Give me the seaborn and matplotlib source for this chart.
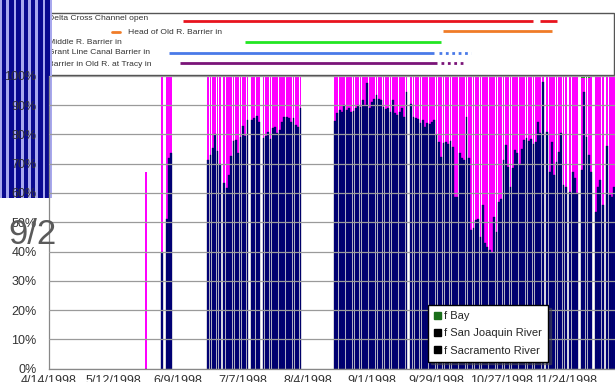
import numpy as np
import pandas as pd
import seaborn as sns
import matplotlib.pyplot as plt
from matplotlib.patches import Patch, Rectangle

sns.set_theme(style="white")
plt.rcParams["font.family"] = ["Liberation Sans", "DejaVu Sans"]

# ----------------------------- data ------------------------------
t0 = pd.Timestamp("1998-04-14")

# two days with only partial data
early_dates = ["1998-05-26", "1998-06-02"]
early_sjr = [0.0, 0.40]
early_sac = [0.67, 0.60]

# daily f San Joaquin River, runs of consecutive days (nan = no data)
sjr_jun04 = [0.51, 0.72, 0.735]
sjr_jun22 = [0.712, 0.729, 0.754, 0.80, 0.743, 0.70]
sjr_jun29 = [0.633, 0.618, 0.66, 0.727, 0.777, 0.78, 0.735, 0.792, 0.83, 0.795, 0.848]
sjr_jul11 = [0.849, 0.857, 0.864, 0.843]
sjr_jul16 = [0.788, 0.795, 0.809, 0.784, 0.82, 0.826, 0.803, 0.815, 0.841, 0.86,
             0.86, 0.854, 0.843, 0.857, 0.832, 0.826, 0.89]
sjr_aug16 = [0.845, 0.871, 0.883, 0.877, 0.90, 0.883, 0.889, 0.877, 0.879, 0.889,
             0.90, 0.894, 0.917, 0.90, 0.974, 0.889, 0.911, 0.922, 0.934, 0.922,
             0.917, 0.894, 0.886, 0.889, 0.877, 0.917, 0.871, 0.866, 0.877, 0.889,
             0.86, 0.943, np.nan,
             0.905, 0.86, 0.857, 0.852, 0.84, 0.849, 0.826, 0.838, 0.834, 0.843,
             0.849, 0.797, 0.775, 0.724, 0.77, 0.773, 0.766, 0.777, 0.758, 0.587,
             0.587, 0.735, 0.718, 0.712, 0.86, 0.718,
             0.474, 0.479, 0.507, 0.511, 0.45, 0.56, 0.428, 0.416, 0.405, 0.394,
             0.519, 0.468, 0.57, 0.58, 0.712, 0.763, 0.69, 0.621, 0.684, 0.746,
             0.735, 0.70, 0.751, 0.78, 0.788, 0.777, 0.783, 0.766, 0.775, 0.843,
             0.803, 0.98, np.nan,
             0.809, 0.673, 0.775, 0.661, 0.707, 0.74, 0.803, 0.626, 0.62, np.nan,
             0.604, 0.673, 0.65, 0.598, np.nan, 0.678, 0.945, 0.79, 0.73, 0.673,
             np.nan, 0.536, 0.621, 0.644, 0.558, np.nan, 0.76, 0.592, 0.587, 0.62]
runs = [("1998-06-04", sjr_jun04), ("1998-06-22", sjr_jun22), ("1998-06-29", sjr_jun29),
        ("1998-07-11", sjr_jul11), ("1998-07-16", sjr_jul16), ("1998-08-16", sjr_aug16)]

# small f Bay share on a few days
bay_dates = ["1998-08-24", "1998-08-25", "1998-08-26", "1998-08-27", "1998-08-28",
             "1998-10-27", "1998-10-28", "1998-10-29",
             "1998-12-01", "1998-12-02", "1998-12-03", "1998-12-04"]
bay_vals = [0.006, 0.006, 0.006, 0.006, 0.006, 0.006, 0.006, 0.006, 0.008, 0.008, 0.008, 0.008]

# barrier operations (start, end)
barrier_names = ["Delta Cross Channel open", "Head of Old R. Barrier in", "Middle R. Barrier in",
                 "Grant Line Canal Barrier in", "Barrier in Old R. at Tracy in"]
barrier_colors = ["#e8141e", "#f07c28", "#22e622", "#4a7ae8", "#7a1478"]
barrier_solid = [[("1998-06-11", "1998-11-10"), ("1998-11-13", "1998-11-20")],
                 [("1998-10-02", "1998-11-18")],
                 [("1998-07-08", "1998-10-01")],
                 [("1998-06-05", "1998-09-28")],
                 [("1998-06-10", "1998-09-29")]]
barrier_dotted = [[], [], [], [("1998-09-30", "1998-10-14")], [("1998-10-01", "1998-10-11")]]

xtick_labels = ["4/14/1998", "5/12/1998", "6/9/1998", "7/7/1998", "8/4/1998",
                "9/1/1998", "9/29/1998", "10/27/1998", "11/24/1998"]

# ------------------------- build table ---------------------------
rows = []
for d, s, m in zip(early_dates, early_sjr, early_sac):
    rows.append((pd.Timestamp(d), s, m))
for start, vals in runs:
    for i, v in enumerate(vals):
        if not np.isnan(v):
            rows.append((pd.Timestamp(start) + pd.Timedelta(days=i), v, np.nan))
df = pd.DataFrame(rows, columns=["date", "sjr", "sac"])
df["day"] = (df["date"] - t0).dt.days
bay = pd.Series(bay_vals, index=pd.to_datetime(bay_dates))
df["bay"] = df["date"].map(bay).fillna(0.0)
# fractions add to one where sac was not given
df["sac"] = df["sac"].fillna(1 - df["sjr"] - df["bay"])
df["top_sac"] = df["sjr"] + df["sac"]
df["top_bay"] = df["top_sac"] + df["bay"]

def day_of(s):
    return (pd.Timestamp(s) - t0).days

# ---------------------------- figure -----------------------------
W, H = 615, 382
fig = plt.figure(figsize=(W / 100, H / 100), dpi=100)
px_per_day = 2.307
ax_w = 572
xmax = ax_w / px_per_day

# pasted strip of another chart at top left
ax_art = fig.add_axes([0, 1 - 198 / H, 52 / W, 198 / H], zorder=1)
art = pd.DataFrame({"k": range(7), "h": [1] * 7})
sns.barplot(data=art, x="k", y="h", color="#0a0a90", saturation=1, width=0.62,
            linewidth=0, ax=ax_art)
ax_art.set_facecolor("#a8a8ee")
ax_art.set_xlim(-0.55, 6.6)
ax_art.set_ylim(0, 1)
ax_art.set_xticks([]); ax_art.set_yticks([])
ax_art.set_xlabel(""); ax_art.set_ylabel("")
for s in ax_art.spines.values():
    s.set_visible(False)

# main bar chart
ax = fig.add_axes([49 / W, 13.3 / H, ax_w / W, 293 / H], zorder=2)
ax.set_facecolor("none")
common = dict(x="day", native_scale=True, width=0.78, errorbar=None, saturation=1, ax=ax)
sns.barplot(data=df, y="top_bay", color="#18a018", linewidth=0, **common)
sns.barplot(data=df, y="top_sac", color="#ff00ff", linewidth=0, **common)
sns.barplot(data=df, y="sjr", color="#000080", edgecolor="#000040", linewidth=0.25, **common)

ax.set_xlim(0, xmax)
ax.set_ylim(0, 1)
ax.set_xticks(np.arange(0, 225, 28))
ax.set_xticklabels(xtick_labels)
ax.set_xticks(np.arange(14, xmax, 28), minor=True)
ax.set_yticks(np.arange(0, 1.01, 0.1))
ax.set_yticklabels([f"{v}%" for v in range(0, 101, 10)])
ax.set_xlabel(""); ax.set_ylabel("")
ax.yaxis.grid(True, color="#9a9a9a", lw=0.9)
ax.set_axisbelow(False)
ax.tick_params(axis="both", which="both", direction="out", length=3, width=0.8,
               color="#888888", labelsize=9, labelcolor="#333333")
ax.tick_params(axis="y", pad=6)
ax.tick_params(axis="x", pad=1.5)
for s in ["top", "right"]:
    ax.spines[s].set_visible(False)
for s in ["left", "bottom"]:
    ax.spines[s].set_color("#888888")
    ax.spines[s].set_linewidth(0.9)

leg_handles = [Patch(color="#1a6e1a"), Patch(color="black"), Patch(color="black")]
fig.legend(leg_handles, ["f Bay", "f San Joaquin River", "f Sacramento River"],
           loc="upper left", bbox_to_anchor=(428 / W, 1 - 305 / H), fontsize=8,
           frameon=True, fancybox=False, shadow=True, edgecolor="black",
           handlelength=0.6, handleheight=0.6, handletextpad=0.3, labelspacing=0.65,
           borderpad=0.55, borderaxespad=0)

# barrier panel above the chart
ax_b = fig.add_axes([49 / W, 1 - 75 / H, ax_w / W, 62 / H], zorder=0)
ax_b.set_xlim(0, xmax)
ax_b.set_ylim(5.14, -0.76)
ax_b.axis("off")
for i, (name, col) in enumerate(zip(barrier_names, barrier_colors)):
    for a, b in barrier_solid[i]:
        ax_b.plot([day_of(a), day_of(b)], [i, i], color=col, lw=2, solid_capstyle="butt")
    for a, b in barrier_dotted[i]:
        ax_b.plot([day_of(a), day_of(b)], [i, i], color=col, lw=2, ls=(0, (1, 1.3)))
fig.add_artist(Rectangle((48 / W, 1 - 75 / H), 566 / W, 62 / H, transform=fig.transFigure,
                         fill=False, edgecolor="#555555", lw=1, zorder=0))
text_y = [19, 33, 43, 53, 64]
for i, name in enumerate(barrier_names):
    x0 = 128 if i == 1 else 47.5
    fig.text(x0 / W, 1 - text_y[i] / H, name, fontsize=6.1, color="#333333",
             va="center", ha="left", zorder=0)
fig.add_artist(plt.Line2D([112 / W, 120 / W], [1 - 32 / H] * 2, color=barrier_colors[1],
                          lw=2, transform=fig.transFigure, zorder=0))

fig.text(8 / W, 1 - 235 / H, "9/2", fontsize=25, color="#5a5a5a", va="center", ha="left",
         zorder=3)

fig.savefig("out.png", dpi=100)
